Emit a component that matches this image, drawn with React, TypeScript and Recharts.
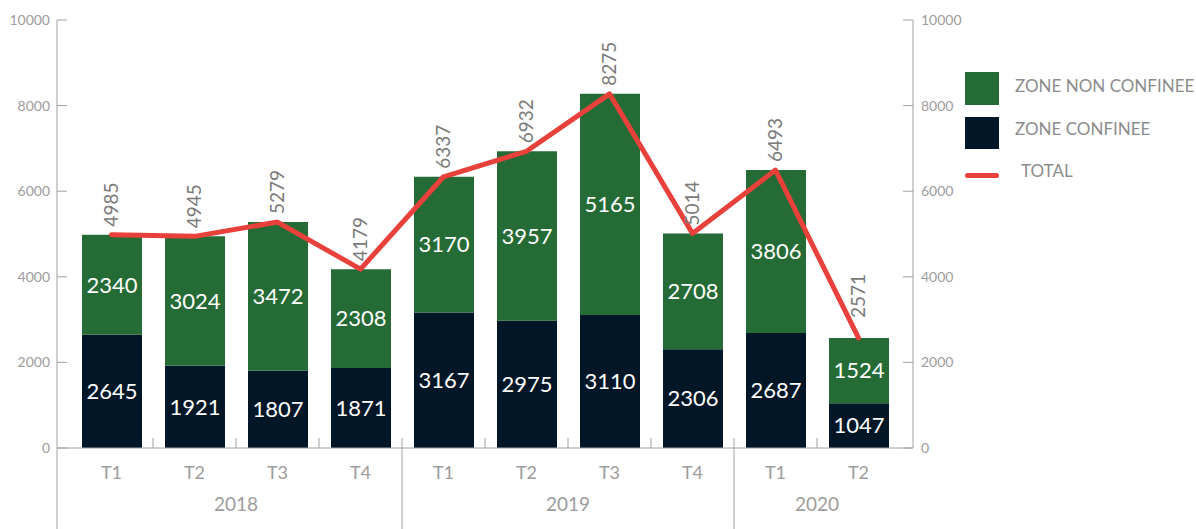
import { Bar, ComposedChart, LabelList, Line, XAxis, YAxis } from "recharts"

const QUARTERS = ['T1', 'T2', 'T3', 'T4', 'T1', 'T2', 'T3', 'T4', 'T1', 'T2']
const YEARS = ['2018', '2018', '2018', '2018', '2019', '2019', '2019', '2019', '2020', '2020']
const ZONE_CONFINEE = [2645, 1921, 1807, 1871, 3167, 2975, 3110, 2306, 2687, 1047]
const ZONE_NON_CONFINEE = [2340, 3024, 3472, 2308, 3170, 3957, 5165, 2708, 3806, 1524]
const TOTAL = [4985, 4945, 5279, 4179, 6337, 6932, 8275, 5014, 6493, 2571]
const Y_TICKS = [0, 2000, 4000, 6000, 8000, 10000]

const data = QUARTERS.map((q, i) => ({
    key: `${YEARS[i]}-${q}`,
    quarter: q,
    year: YEARS[i],
    confinee: ZONE_CONFINEE[i],
    nonConfinee: ZONE_NON_CONFINEE[i],
    total: TOTAL[i],
}))

const W = 1196
const H = 529
const LEFT = 57
const RIGHT = 913
const TOP = 20
const BOTTOM = 448
const PAD = 13
const BAND = (RIGHT - LEFT - 2 * PAD) / data.length

const GREEN = '#256b36'
const NAVY = '#011627'
const RED = '#e8403a'
const AXIS = '#a0a0a0'
const TEXT = '#9c9c9c'

const XTick = ({ x, index }: any) => {
    const d = data[index]
    if (!d) return null
    const first = index === 0 || data[index - 1].year !== d.year
    const count = data.filter(r => r.year === d.year).length
    const left = x - BAND / 2
    return (
        <g>
            {index > 0 && <line x1={left} x2={left} y1={BOTTOM - 10} y2={first ? H : BOTTOM} stroke={AXIS} />}
            {index === 0 && <line x1={LEFT} x2={LEFT} y1={BOTTOM} y2={H} stroke={AXIS} />}
            <text x={x} y={BOTTOM + 31} textAnchor="middle" fill={TEXT} fontSize={18}>{d.quarter}</text>
            {first && (
                <text x={x + (count - 1) * BAND / 2} y={BOTTOM + 63} textAnchor="middle" fill={TEXT} fontSize={19}>{d.year}</text>
            )}
        </g>
    )
}

const YTickLeft = ({ y, payload }: any) => (
    <g>
        <line x1={LEFT} x2={LEFT + 10} y1={y} y2={y} stroke={AXIS} />
        <text x={LEFT - 7} y={y + 5} textAnchor="end" fill={TEXT} fontSize={14}>{payload.value}</text>
    </g>
)

const YTickRight = ({ y, payload }: any) => (
    <g>
        <line x1={RIGHT - 10} x2={RIGHT} y1={y} y2={y} stroke={AXIS} />
        <text x={RIGHT + 8} y={y + 5} textAnchor="start" fill={TEXT} fontSize={14}>{payload.value}</text>
    </g>
)

const TotalLabel = ({ x, y, value, index }: any) => (
    <text transform={`translate(${x + 6}, ${y - (index === data.length - 1 ? 20 : 8)}) rotate(-90)`} fontSize={19} fill="#7a7a7a">{value}</text>
)

const legendText = { position: 'absolute' as const, color: '#8c8c8c', fontSize: 17, whiteSpace: 'nowrap' as const }

export default function App() {
    return (
        <div style={{ position: 'absolute', left: 0, top: 0, width: W, height: H, fontFamily: 'Lato, "Open Sans", sans-serif', background: '#fff' }}>
            <ComposedChart width={W} height={H} data={data} margin={{ top: TOP, right: 0, bottom: 0, left: 0 }}>
                <XAxis
                    dataKey="key"
                    height={H - BOTTOM}
                    padding={{ left: PAD, right: PAD }}
                    axisLine={{ stroke: AXIS }}
                    tickLine={false}
                    tick={<XTick />}
                    interval={0}
                />
                <YAxis
                    yAxisId="left"
                    width={LEFT}
                    domain={[0, 10000]}
                    ticks={Y_TICKS}
                    axisLine={{ stroke: AXIS }}
                    tickLine={false}
                    tick={<YTickLeft />}
                />
                <YAxis
                    yAxisId="right"
                    orientation="right"
                    width={W - RIGHT}
                    domain={[0, 10000]}
                    ticks={Y_TICKS}
                    axisLine={{ stroke: AXIS }}
                    tickLine={false}
                    tick={<YTickRight />}
                />
                <Bar yAxisId="left" dataKey="confinee" stackId="a" fill={NAVY} barSize={60} isAnimationActive={false}>
                    <LabelList dataKey="confinee" position="center" fill="#fff" fontSize={22} />
                </Bar>
                <Bar yAxisId="left" dataKey="nonConfinee" stackId="a" fill={GREEN} barSize={60} isAnimationActive={false}>
                    <LabelList dataKey="nonConfinee" position="center" fill="#fff" fontSize={22} />
                </Bar>
                <Line yAxisId="right" dataKey="total" stroke={RED} strokeWidth={5} dot={false} strokeLinejoin="round" strokeLinecap="round" isAnimationActive={false}>
                    <LabelList dataKey="total" content={<TotalLabel />} />
                </Line>
            </ComposedChart>
            <div style={{ position: 'absolute', left: 965, top: 72, width: 34, height: 33, background: GREEN }} />
            <div style={{ position: 'absolute', left: 965, top: 117, width: 34, height: 32, background: NAVY }} />
            <div style={{ position: 'absolute', left: 965, top: 173, width: 34, height: 5, borderRadius: 3, background: RED }} />
            <div style={{ ...legendText, left: 1015, top: 75 }}>ZONE NON CONFINEE</div>
            <div style={{ ...legendText, left: 1015, top: 118 }}>ZONE CONFINEE</div>
            <div style={{ ...legendText, left: 1021, top: 160 }}>TOTAL</div>
        </div>
    )
}
